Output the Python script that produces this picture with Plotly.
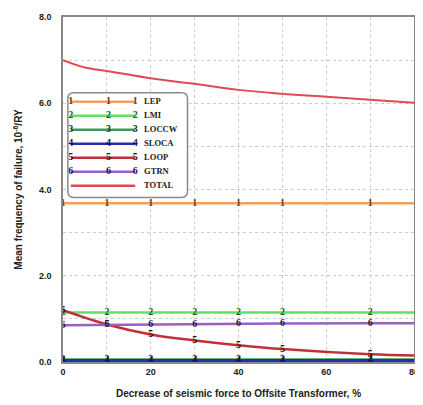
import plotly.graph_objects as go

# ---- data ----
x = [0, 10, 20, 30, 40, 50, 70, 80]
x_marks = [0, 10, 20, 30, 40, 50, 70]
lep = [3.68, 3.68, 3.68, 3.68, 3.68, 3.68, 3.68, 3.68]
lmi = [1.15, 1.15, 1.15, 1.15, 1.15, 1.15, 1.15, 1.15]
loccw = [0.06, 0.06, 0.06, 0.06, 0.06, 0.06, 0.06, 0.06]
sloca = [0.03, 0.03, 0.03, 0.03, 0.03, 0.03, 0.03, 0.03]
loop = [1.20, 0.87, 0.64, 0.50, 0.39, 0.30, 0.18, 0.15]
gtrn = [0.85, 0.86, 0.87, 0.88, 0.89, 0.89, 0.90, 0.90]
x_total = [0, 5, 10, 20, 30, 40, 50, 60, 70, 80]
total = [7.00, 6.83, 6.75, 6.58, 6.45, 6.31, 6.22, 6.15, 6.08, 6.01]
series_names = ["LEP", "LMI", "LOCCW", "SLOCA", "LOOP", "GTRN"]
series_digits = ["1", "2", "3", "4", "5", "6"]
y_ticks = [0, 2, 4, 6, 8]
y_ticklabels = ["0.0", "2.0", "4.0", "6.0", "8.0"]
x_ticks = [0, 20, 40, 60, 80]
x_ticklabels = ["0", "20", "40", "60", "80"]

# ---- styles ----
series_values = [lep, lmi, loccw, sloca, loop, gtrn]
line_colors = ["#f0a060", "#66dd66", "#3a9a5a", "#2b2bb0", "#c0303a", "#9a60c0"]
digit_colors = ["#6a3a10", "#1d5a1d", "#123a20", "#101050", "#3a0a10", "#30104a"]
total_color = "#e04a55"

fig = go.Figure()
for name, ys, col, dark, digit in zip(series_names, series_values, line_colors,
                                      digit_colors, series_digits):
    fig.add_trace(go.Scatter(
        x=x, y=ys, name=name, mode="lines", showlegend=False,
        line=dict(color=col, width=3.5 if name == "SLOCA" else 2.5,
                  shape="spline" if name == "LOOP" else "linear"),
    ))
    fig.add_trace(go.Scatter(
        x=x_marks, y=ys[:len(x_marks)], mode="text", showlegend=False,
        text=[digit] * len(x_marks), textposition="middle center",
        hoverinfo="skip",
        textfont=dict(family="Liberation Serif", size=10, color=dark, weight="bold"),
    ))
fig.add_trace(go.Scatter(
    x=x_total, y=total, name="TOTAL", mode="lines", showlegend=False,
    line=dict(color=total_color, width=2, shape="spline"),
))

# ---- legend box: rounded frame (paper coords of the plot area) ----
lx0, lx1, ly0, ly1 = 0.0138, 0.3547, 0.4769, 0.7801
rx, ry = 0.0169, 0.0171
frame_path = (
    f"M {lx0 + rx},{ly1} L {lx1 - rx},{ly1} Q {lx1},{ly1} {lx1},{ly1 - ry} "
    f"L {lx1},{ly0 + ry} Q {lx1},{ly0} {lx1 - rx},{ly0} "
    f"L {lx0 + rx},{ly0} Q {lx0},{ly0} {lx0},{ly0 + ry} "
    f"L {lx0},{ly1 - ry} Q {lx0},{ly1} {lx0 + rx},{ly1} Z"
)
fig.add_shape(type="path", path=frame_path, xref="paper", yref="paper",
              layer="above", line=dict(color="#8a8a8a", width=1.5))

# ---- legend entries (own small axes, one row per series) ----
legend_names = series_names + ["TOTAL"]
legend_rows = list(range(1, len(legend_names) + 1))
sample_x = [4, 42, 69]
label_x = 78
for i, (name, col, dark, digit) in enumerate(zip(series_names, line_colors,
                                                 digit_colors, series_digits)):
    fig.add_trace(go.Scatter(
        x=sample_x, y=[legend_rows[i]] * len(sample_x), xaxis="x2", yaxis="y2",
        mode="lines+text", text=[digit] * len(sample_x), showlegend=False,
        textposition="middle center", hoverinfo="skip",
        line=dict(color=col, width=2.5),
        textfont=dict(family="Liberation Serif", size=10, color=dark, weight="bold"),
    ))
fig.add_trace(go.Scatter(
    x=[sample_x[0], sample_x[-1]], y=[legend_rows[-1]] * 2, xaxis="x2", yaxis="y2",
    mode="lines", showlegend=False, hoverinfo="skip",
    line=dict(color=total_color, width=2.5),
))
fig.add_trace(go.Scatter(
    x=[label_x] * len(legend_names), y=legend_rows, xaxis="x2", yaxis="y2",
    mode="text", text=legend_names, textposition="middle right",
    showlegend=False, hoverinfo="skip",
    textfont=dict(family="Liberation Serif", size=8.5, color="#222", weight="bold"),
))

fig.update_layout(
    width=415, height=397,
    margin=dict(l=55, r=5, t=4, b=43),
    paper_bgcolor="white", plot_bgcolor="white",
    font=dict(family="Liberation Sans", size=9, color="#222"),
    showlegend=False,
    xaxis=dict(
        range=[0, 80], tickvals=x_ticks,
        ticktext=["<b>%s</b>" % t for t in x_ticklabels],
        ticks="",
        showgrid=True, gridcolor="#cccccc", griddash="dot",
        minor=dict(dtick=10, showgrid=True, gridcolor="#cccccc", griddash="dot"),
        showline=True, linecolor="#888", linewidth=1.5, mirror=True,
        zeroline=False,
        tickfont=dict(size=9, family="Liberation Sans"),
        title=dict(text="<b>Decrease of seismic force to Offsite Transformer, %</b>",
                   font=dict(size=10), standoff=14),
    ),
    yaxis=dict(
        range=[0, 8], tickvals=y_ticks,
        ticktext=["<b>%s</b>" % t for t in y_ticklabels],
        ticks="", ticklabelstandoff=8,
        showgrid=True, gridcolor="#cccccc", griddash="dot",
        minor=dict(dtick=1, showgrid=True, gridcolor="#cccccc", griddash="dot"),
        showline=True, linecolor="#888", linewidth=1.5, mirror=True,
        zeroline=False,
        tickfont=dict(size=9, family="Liberation Sans"),
        title=dict(text="<b>Mean frequency of failure, 10<sup>-6</sup>/RY</b>",
                   font=dict(size=10), standoff=14),
    ),
    xaxis2=dict(domain=[0.011, 0.358], range=[0, 123], anchor="y2", visible=False,
                fixedrange=True),
    yaxis2=dict(domain=[0.474, 0.783], range=[7.9, 0.3], anchor="x2", visible=False,
                fixedrange=True),
)

fig.write_html("out.html")
